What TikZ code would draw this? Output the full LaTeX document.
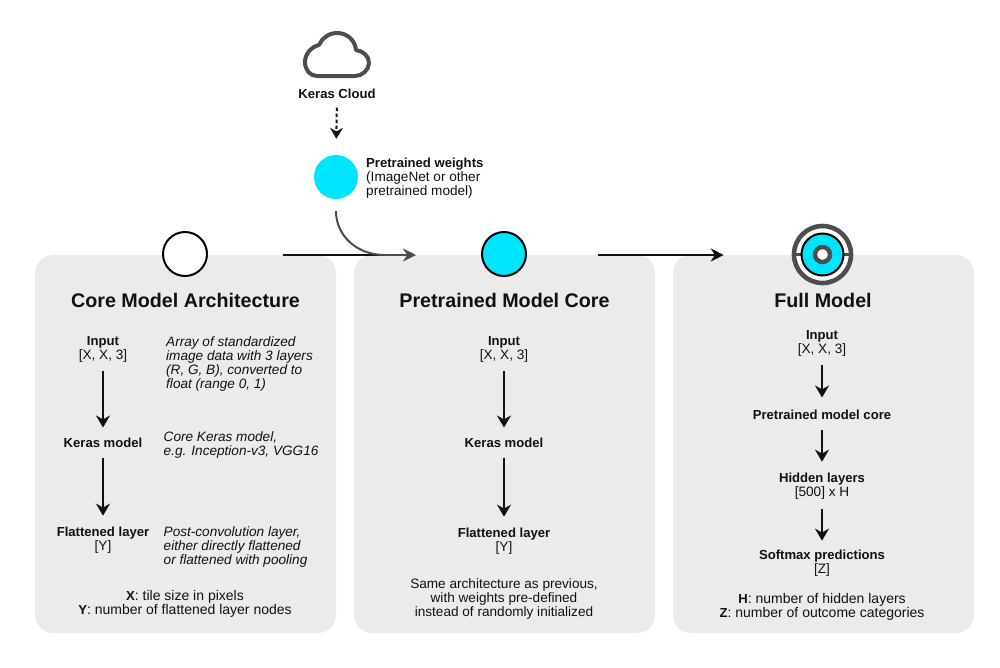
\documentclass[tikz,border=0pt]{standalone}
\usepackage{fontspec}
\setmainfont{Liberation Sans}
\usetikzlibrary{arrows.meta}
\definecolor{panelgray}{HTML}{EBEBEB}
\definecolor{weightcyan}{HTML}{00E5FF}
\definecolor{ringgray}{HTML}{4D4D4D}
\definecolor{inkblack}{HTML}{111111}
\newcommand{\lab}[1]{{\fontsize{13.1}{14}\selectfont\bfseries #1}}

\begin{document}
\begin{tikzpicture}[x=1pt,y=-1pt]

% Define styles
\tikzstyle{panel} = [rectangle, rounded corners=18pt, minimum width=301pt, minimum height=378pt, inner sep=0pt, fill=panelgray]
\tikzstyle{title} = [inner sep=0pt, text=inkblack, font=\fontsize{19.7}{22}\selectfont\bfseries]
\tikzstyle{layer} = [inner sep=0pt, align=center, text=inkblack, font=\fontsize{13.6}{14}\selectfont]
\tikzstyle{legend} = [inner sep=0pt, align=center, text=inkblack, font=\fontsize{14}{14}\selectfont]
\tikzstyle{note} = [inner sep=0pt, anchor=west, align=left, text=inkblack, font=\fontsize{13.6}{14}\selectfont\itshape]
\tikzstyle{dot} = [circle, inner sep=0pt, minimum size=44pt]
\tikzstyle{arrow} = [line width=2.4pt, inkblack, -{Stealth[length=12pt,width=14pt]}]
\tikzstyle{flow} = [line width=2.4pt, inkblack, -{Stealth[length=13pt,width=13pt]}]

\useasboundingbox (0,0) rectangle (1000,667);

% Panels
\node (panelA) [panel] at (185.5,444) {};
\node (panelB) [panel] at (504.5,444) {};
\node (panelC) [panel] at (823.5,444) {};

% Cloud
\draw [line width=4pt, ringgray, line join=round] (317,76) .. controls (310,76) and (305,70) .. (305,62) .. controls (305,54) and (311,47) .. (319,45) .. controls (322,38) and (329,33) .. (337,33) .. controls (347,33) and (355,40) .. (356,50) .. controls (363,51) and (369,56) .. (369,63) .. controls (369,70) and (362,76) .. (355,76) -- cycle;
\node (cloud) [layer] at (337,93.5) {\lab{Keras Cloud}};

% Weights
\node (weights) [dot, fill=weightcyan] at (336,177) {};
\node (weightstext) [note, font=\fontsize{13.6}{14}\selectfont] at (366,178) {\lab{Pretrained weights}\\(ImageNet or other\\pretrained model)};

% Stage circles
\node (core) [dot, draw=black, line width=2pt, fill=white] at (185,254) {};
\node (pretrained) [dot, draw=black, line width=2pt, fill=weightcyan] at (504,254) {};
\node (fullring) [circle, inner sep=0pt, minimum size=57pt, draw=ringgray, line width=4.6pt, fill=white] at (822.5,254.5) {};
\draw [ringgray, line width=3pt] (fullring.west) -- (fullring.east);
\node (full) [circle, inner sep=0pt, minimum size=42pt, draw=black, line width=2pt, fill=weightcyan] at (822.5,254.5) {};
\node (fullhub) [circle, inner sep=0pt, minimum size=15pt, draw=ringgray, line width=4.4pt, fill=white] at (822.5,254.5) {};

% Titles
\node (titleA) [title] at (185.5,300) {Core Model Architecture};
\node (titleB) [title] at (504.5,300) {Pretrained Model Core};
\node (titleC) [title] at (823,300) {Full Model};

% Core model architecture
\node (inputA) [layer] at (103,349) {\lab{Input}\\{}[X, X, 3]};
\node (kerasA) [layer] at (103,442.5) {\lab{Keras model}};
\node (flatA) [layer] at (103,540) {\lab{Flattened layer}\\{}[Y]};
\node (noteinput) [note] at (166,364) {Array of standardized\\image data with 3 layers\\(R, G, B), converted to\\float (range 0, 1)};
\node (notekeras) [note] at (163.5,445) {Core Keras model,\\e.g. Inception-v3, VGG16};
\node (noteflat) [note] at (163.5,547) {Post-convolution layer,\\either directly flattened\\or flattened with pooling};
\node (legendA) [legend] at (185,604) {\lab{X}: tile size in pixels\\\lab{Y}: number of flattened layer nodes};

% Pretrained model core
\node (inputB) [layer] at (504,349) {\lab{Input}\\{}[X, X, 3]};
\node (kerasB) [layer] at (504,442.5) {\lab{Keras model}};
\node (flatB) [layer] at (504,541) {\lab{Flattened layer}\\{}[Y]};
\node (legendB) [layer] at (504,599) {Same architecture as previous,\\with weights pre-defined\\instead of randomly initialized};

% Full model
\node (inputC) [layer] at (822,343.5) {\lab{Input}\\{}[X, X, 3]};
\node (coreC) [layer] at (822,414.5) {\lab{Pretrained model core}};
\node (hiddenC) [layer] at (822,486) {\lab{Hidden layers}\\{}[500] x H};
\node (softC) [layer] at (822,563) {\lab{Softmax predictions}\\{}[Z]};
\node (legendC) [legend] at (822,607) {\lab{H}: number of hidden layers\\\lab{Z}: number of outcome categories};

% Arrows
\draw [arrow, shorten <=9pt, shorten >=10pt] (inputA.south) -- (kerasA.north);
\draw [arrow, shorten <=10pt, shorten >=11pt] (kerasA.south) -- (flatA.north);
\draw [arrow, shorten <=9pt, shorten >=10pt] (inputB.south) -- (kerasB.north);
\draw [arrow, shorten <=10pt, shorten >=11pt] (kerasB.south) -- (flatB.north);
\draw [arrow, shorten <=8pt, shorten >=12pt] (inputC.south) -- (coreC.north);
\draw [arrow, shorten <=10pt, shorten >=11pt] (coreC.south) -- (hiddenC.north);
\draw [arrow, shorten <=10pt, shorten >=9pt] (hiddenC.south) -- (softC.north);

% Dashed arrow from the cloud
\draw [line width=2pt, inkblack, dash pattern=on 3.5pt off 2.5pt, -{Stealth[length=11pt,width=13pt]}, shorten <=9pt, shorten >=16pt] (cloud.south) -- (weights.north);

% Arrows between stages
\coordinate (merge) at (385,255);
\draw [line width=2.4pt, inkblack, shorten <=75pt] (core.east |- merge) -- (merge);
\draw [line width=2.4pt, ringgray, -{Stealth[length=13pt,width=13pt]}, shorten >=65pt] (merge) -- (pretrained.west |- merge);
\draw [line width=2pt, ringgray, shorten <=12pt] (weights.south) .. controls (336,235) and (356,255) .. (merge);
\draw [flow, shorten <=71pt, shorten >=68pt] (pretrained.east |- merge) -- (fullring.west |- merge);

\end{tikzpicture}
\end{document}
